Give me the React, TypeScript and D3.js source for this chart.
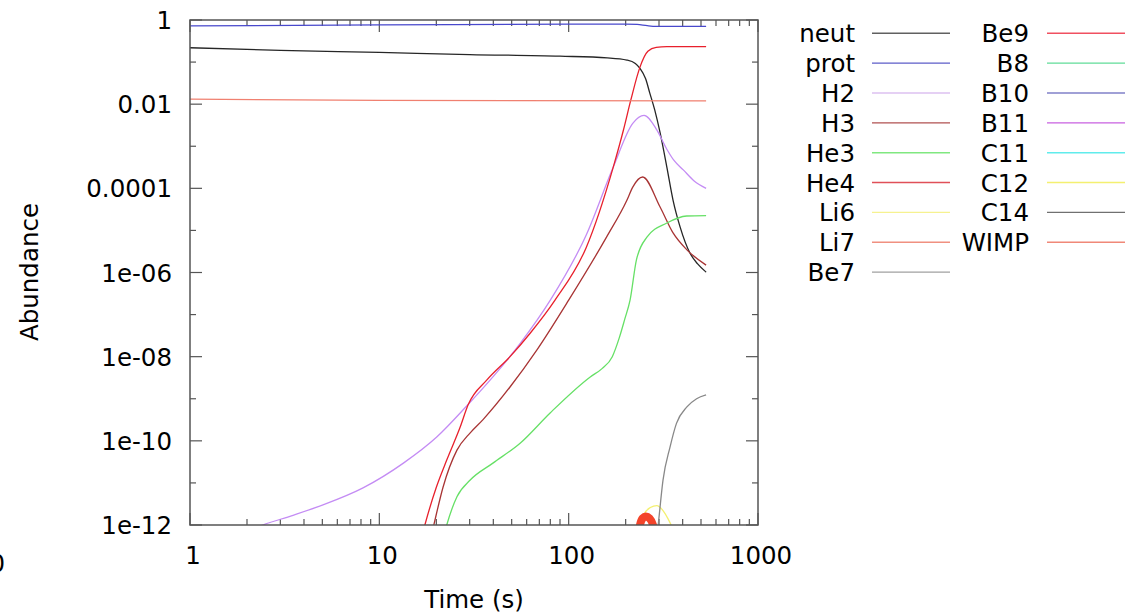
import React from "react";
import * as d3 from "d3";

type Pt = [number, number];

// ---- data (time in s, abundance) ----
const neut: Pt[] = [
  [1, 0.219], [3, 0.19], [10, 0.17], [30, 0.151], [90, 0.138], [160, 0.126], [203, 0.112],
  [225, 0.093], [238, 0.071], [255, 0.04], [268, 0.0186], [285, 0.0072], [304, 0.0021],
  [330, 3.2e-4], [356, 5.2e-5], [388, 1.2e-5], [437, 2.9e-6], [480, 1.6e-6], [532, 1.02e-6],
];
const prot: Pt[] = [
  [1, 0.724], [10, 0.767], [100, 0.794], [200, 0.8], [230, 0.785], [260, 0.733], [290, 0.708], [532, 0.708],
];
const H2: Pt[] = [
  [2.0, 7.2e-13], [2.42, 1e-12], [3.5, 1.7e-12], [5.04, 3.0e-12], [8.2, 7.6e-12], [13.4, 2.95e-11],
  [20.1, 1.23e-10], [29, 6.8e-10], [39.8, 3.3e-9], [55.6, 2.1e-8], [80, 2.2e-7], [124, 7.9e-6],
  [172, 3.2e-4], [218, 3.5e-3], [250, 5.4e-3], [292, 2.45e-3], [330, 8.5e-4], [360, 4.6e-4],
  [403, 2.75e-4], [460, 1.5e-4], [532, 1.0e-4],
];
const H3: Pt[] = [
  [18.5, 4e-13], [19.4, 1e-12], [21.7, 7.9e-12], [25.7, 6.0e-11], [30.2, 1.55e-10], [35.3, 3.2e-10],
  [49, 1.9e-9], [68, 1.45e-8], [100, 2.2e-7], [159, 7.1e-6], [203, 5.2e-5], [218, 1.07e-4],
  [246, 1.86e-4], [304, 3.6e-5], [356, 8.7e-6], [420, 3.5e-6], [532, 1.5e-6],
];
const He3: Pt[] = [
  [21.5, 4e-13], [22.7, 1e-12], [25.7, 4.7e-12], [30.2, 1.17e-11], [39.8, 2.95e-11], [55.6, 8.9e-11],
  [79.8, 4.6e-10], [130, 3.3e-9], [150, 5.2e-9], [170, 1.0e-8], [185, 2.8e-8], [198, 7.9e-8],
  [211, 2.2e-7], [228, 2.0e-6], [259, 6.9e-6], [330, 1.5e-5], [420, 2.2e-5], [532, 2.25e-5],
];
const He4: Pt[] = [
  [16.5, 4e-13], [17.4, 1e-12], [20, 7.9e-12], [22.7, 3.5e-11], [26.7, 2.1e-10], [29.4, 7.1e-10],
  [37, 2.8e-9], [49, 1.0e-8], [62.6, 3.6e-8], [84.7, 2.2e-7], [124, 4.0e-6], [172, 3.2e-4],
  [195, 2.5e-3], [213, 0.0126], [238, 0.076], [262, 0.18], [290, 0.224], [330, 0.232], [532, 0.233],
];
const Li6: Pt[] = [
  [240, 7.9e-13], [250, 1.8e-12], [270, 2.6e-12], [292, 2.9e-12], [315, 2.2e-12], [335, 1.4e-12], [352, 8.9e-13],
];
const Li7: Pt[] = [
  [232, 5e-13], [238, 1.0e-12], [246, 1.45e-12], [256, 1.6e-12], [267, 1.45e-12], [279, 1.0e-12], [285, 5e-13],
];
const Be7: Pt[] = [
  [290, 4e-13], [297, 1e-12], [315, 1.17e-11], [343, 7.1e-11], [371, 2.6e-10], [420, 6.3e-10],
  [474, 1.0e-9], [532, 1.23e-9],
];
const WIMP: Pt[] = [[1, 0.0132], [10, 0.0123], [532, 0.012]];
const empty: Pt[] = [];

const seriesNames = ["neut", "prot", "H2", "H3", "He3", "He4", "Li6", "Li7", "Be7",
  "Be9", "B8", "B10", "B11", "C11", "C12", "C14", "WIMP"];
const seriesData: Pt[][] = [neut, prot, H2, H3, He3, He4, Li6, Li7, Be7,
  empty, empty, empty, empty, empty, empty, empty, WIMP];
const seriesColors = ["#262626", "#4848cc", "#c48cf4", "#a83434", "#66e066", "#e8202c", "#f4f070",
  "#f4442a", "#888888", "#f04858", "#50d890", "#7070c4", "#c050e0", "#50e8e8", "#f2f050", "#555555", "#f08070"];
const legendColors = ["#606060", "#5c5cc8", "#dcc0f0", "#b05050", "#80e880", "#e05058", "#f6f290",
  "#f09080", "#a0a0a0", "#f05060", "#60dc98", "#8080c8", "#c860e0", "#60ecec", "#f4f070", "#707070", "#f08878"];

const yTickValues = [1, 0.01, 1e-4, 1e-6, 1e-8, 1e-10, 1e-12];
const yTickLabels = ["1", "0.01", "0.0001", "1e-06", "1e-08", "1e-10", "1e-12"];
const xTickValues = [1, 10, 100, 1000];
const xTickLabels = ["1", "10", "100", "1000"];

const FONT = "'DejaVu Sans', sans-serif";
const FS = 24.5;

export default function App() {
  const L = 190, R = 758, T = 20, B = 525;
  const x = d3.scaleLog().domain([1, 1000]).range([L, R]);
  const y = d3.scaleLog().domain([1e-12, 1]).range([B, T]);
  const line = d3.line<Pt>().x(d => x(d[0])).y(d => y(d[1])).curve(d3.curveMonotoneX);

  const xMinor: number[] = [];
  for (let dec = 1; dec < 1000; dec *= 10) for (let k = 2; k <= 9; k++) xMinor.push(dec * k);
  const yAll: number[] = [];
  for (let e = -12; e <= 0; e++) yAll.push(Math.pow(10, e));

  const axisColor = "#555";
  const rowY = (i: number) => 33.3 + i * 29.85;

  return (
    <svg width={1141} height={616} style={{ position: "absolute", left: 0, top: 0, background: "#fff" }}
      fontFamily={FONT}>
      <defs>
        <clipPath id="plotclip">
          <rect x={L} y={T} width={R - L} height={B - T} />
        </clipPath>
      </defs>
      <rect x={0} y={0} width={1141} height={616} fill="#fff" />
      {/* ticks */}
      {xMinor.map((v, i) => (
        <g key={"xm" + i} stroke={axisColor} strokeWidth={1.2}>
          <line x1={x(v)} x2={x(v)} y1={B} y2={B - 6} />
          <line x1={x(v)} x2={x(v)} y1={T} y2={T + 6} />
        </g>
      ))}
      {xTickValues.map((v, i) => (
        <g key={"xM" + i} stroke={axisColor} strokeWidth={1.2}>
          <line x1={x(v)} x2={x(v)} y1={B} y2={B - 12} />
          <line x1={x(v)} x2={x(v)} y1={T} y2={T + 12} />
        </g>
      ))}
      {yAll.map((v, i) => {
        const len = i % 2 === 0 ? 12 : 6;
        return (
          <g key={"y" + i} stroke={axisColor} strokeWidth={1.2}>
            <line x1={L} x2={L + len} y1={y(v)} y2={y(v)} />
            <line x1={R} x2={R - len} y1={y(v)} y2={y(v)} />
          </g>
        );
      })}
      {/* series */}
      <g clipPath="url(#plotclip)" fill="none">
        {seriesData.map((d, i) =>
          d.length > 0 ? (
            <path key={seriesNames[i]} d={line(d) || ""} stroke={seriesColors[i]}
              strokeWidth={seriesNames[i] === "Li7" ? 8 : 1.3} strokeLinejoin="round" />
          ) : null
        )}
      </g>
      {/* border */}
      <rect x={L} y={T} width={R - L} height={B - T} fill="none" stroke={axisColor} strokeWidth={1.5} />
      {/* tick labels */}
      {yTickValues.map((v, i) => (
        <text key={"yl" + i} x={172} y={y(v) + 9} textAnchor="end" fontSize={FS} fill="#000">
          {yTickLabels[i]}
        </text>
      ))}
      {xTickValues.map((v, i) => (
        <text key={"xl" + i} x={x(v) + 3} y={564} textAnchor="middle" fontSize={FS} fill="#000">
          {xTickLabels[i]}
        </text>
      ))}
      <text x={474} y={608} textAnchor="middle" fontSize={FS} fill="#000">Time (s)</text>
      <text transform="translate(38,272) rotate(-90)" textAnchor="middle" fontSize={FS} fill="#000">Abundance</text>
      <text x={5} y={572} textAnchor="end" fontSize={FS} fill="#000">0</text>
      {/* legend */}
      {seriesNames.map((n, i) => {
        const col = i < 9 ? 0 : 1;
        const row = i < 9 ? i : i - 9;
        const tx = col === 0 ? 855 : 1029;
        const lx1 = col === 0 ? 872 : 1047;
        const lx2 = col === 0 ? 950 : 1125;
        const yy = rowY(row);
        return (
          <g key={"lg" + n}>
            <text x={tx} y={yy + 9} textAnchor="end" fontSize={FS} fill="#000">{n}</text>
            <line x1={lx1} x2={lx2} y1={yy} y2={yy} stroke={legendColors[i]} strokeWidth={1.4} />
          </g>
        );
      })}
    </svg>
  );
}
